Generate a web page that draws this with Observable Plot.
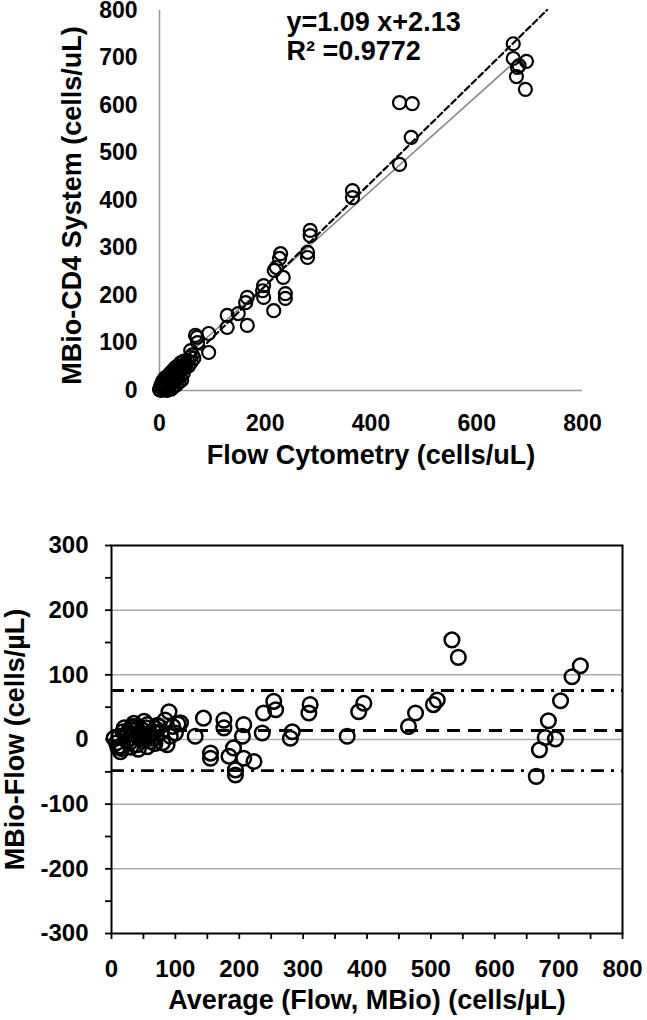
<!DOCTYPE html>
<html>
<head>
<meta charset="utf-8">
<script src="https://cdn.jsdelivr.net/npm/d3@7"></script>
<script src="https://cdn.jsdelivr.net/npm/@observablehq/plot@0.6"></script>
<style>
  body { margin: 0; background: #fff; }
  #chart svg { display: block; }
</style>
</head>
<body>
<div id="chart"></div>
<script>
// ---------- Top chart: correlation ----------
const flowVals = [0,2,3,4,5,6,7,8,9,10,11,12,13,14,15,16,17,18,19,20,21,22,23,24,25,26,27,28,29,30,31,32,33,34,35,36,37,38,39,40,41,42,44,45,46,48,50,53,55,58,60,62,65,
  59,68,72,93,93,71,128,128,149,166,166,163,197,195,197,216,238,238,234,217,221,227,229,280,280,285,285,365,365,454,476,454,478,669,669,680,694,677,675,692];
const mbioVals = [2,8,0,14,5,20,10,2,16,26,7,12,22,0,30,18,5,26,12,36,22,3,30,16,42,28,8,36,20,48,32,12,40,26,52,38,18,46,30,58,44,22,52,36,62,48,56,63,52,70,60,75,68,
  84,116,101,120,80,112,158,133,162,137,196,185,221,210,196,168,204,194,238,253,259,278,288,280,291,326,337,406,421,476,533,606,604,730,699,684,693,680,661,634];
const topXTicks = [0, 200, 400, 600, 800];
const topYTicks = [0, 100, 200, 300, 400, 500, 600, 700, 800];
const regSlope = 1.09, regIntercept = 2.13;
const regXRange = [0, 733];
const refLineX = [0, 670];
const refLineY = [22, 690];
const eqLabel = "y=1.09 x+2.13";
const r2Label = "R\u00B2 =0.9772";
const topXTitle = "Flow Cytometry (cells/uL)";
const topYTitle = "MBio-CD4 System (cells/uL)";

// ---------- Bottom chart: Bland-Altman ----------
const baAvg = [4,14,14,10,22,25,18,28,30,32,35,40,40,43,45,48,51,56,56,58,60,62,66,69,72,75,80,87,90,92,104,
  8,12,16,20,24,26,30,34,38,42,46,50,54,64,68,78,84,96,100,108,
  131,144,155,155,176,176,184,191,194,194,205,207,207,223,236,238,254,257,280,283,309,311,369,387,395,465,476,504,510,533,543,665,670,679,684,695,703,721,734];
const baDiff = [2,-19,-10,-12,7,7,12,-5,15,20,25,17,-8,2,7,15,28,23,-11,5,10,-3,12,17,22,20,-5,-8,43,5,24,
  -5,5,-14,18,-2,12,-12,8,20,-15,10,0,18,2,-6,12,30,20,10,26,
  5,33,-21,-29,30,18,-26,-13,-47,-55,5,23,-29,-34,10,41,59,46,2,12,41,54,5,43,56,20,41,54,61,154,127,-57,-16,3,29,1,60,97,114];
const meanDiff = 13.9;
const upperLoA = 75.8;
const lowerLoA = -48.0;
const baXTicks = d3.range(0, 801, 50);
const baYTicks = d3.range(-300, 301, 50);
const baGrid = [200, 100, 0, -100, -200];
const baXTitle = "Average (Flow, MBio) (cells/\u00B5L)";
const baYTitle = "MBio-Flow (cells/\u00B5L)";

const font = "'Liberation Sans', Arial, Helvetica, sans-serif";

const topData = flowVals.map((f, i) => ({flow: f, mbio: mbioVals[i]}));
const regLine = regXRange.map(x => ({x, y: regSlope * x + regIntercept}));
const refLine = refLineX.map((x, i) => ({x, y: refLineY[i]}));

const topPlot = Plot.plot({
  width: 647, height: 480,
  marginTop: 10, marginBottom: 90, marginLeft: 159, marginRight: 65,
  style: {fontFamily: font, fontSize: "23px", fontWeight: "bold", color: "black", background: "white", overflow: "visible"},
  x: {domain: [0, 800], label: null},
  y: {domain: [0, 800], label: null},
  marks: [
    Plot.axisX({ticks: topXTicks, tickSize: 0, tickPadding: 24, fontSize: 23, fontWeight: "bold", label: null}),
    Plot.axisY({ticks: topYTicks, tickSize: 0, tickPadding: 22, fontSize: 23, fontWeight: "bold", label: null}),
    Plot.ruleX([0], {stroke: "#999", strokeWidth: 1.5}),
    Plot.ruleY([0], {stroke: "#999", strokeWidth: 1.5}),
    Plot.line(refLine, {x: "x", y: "y", stroke: "#888", strokeWidth: 1.5}),
    Plot.line(regLine, {x: "x", y: "y", stroke: "black", strokeWidth: 2.2, strokeDasharray: "6,3.5"}),
    Plot.dot(topData, {x: "flow", y: "mbio", r: 6.5, stroke: "black", strokeWidth: 2.2, fill: "none"}),
    Plot.text([eqLabel], {text: d => d, frameAnchor: "top-left", dx: 127, dy: 12, textAnchor: "start", lineAnchor: "middle", fontSize: 27, fontWeight: "bold"}),
    Plot.text([r2Label], {text: d => d, frameAnchor: "top-left", dx: 127, dy: 41, textAnchor: "start", lineAnchor: "middle", fontSize: 27, fontWeight: "bold"}),
    Plot.text([topXTitle], {text: d => d, frameAnchor: "bottom", dy: 65, textAnchor: "middle", lineAnchor: "middle", fontSize: 27, fontWeight: "bold"}),
    Plot.text([topYTitle], {text: d => d, frameAnchor: "left", dx: -87, dy: 5, rotate: -90, textAnchor: "middle", lineAnchor: "middle", fontSize: 27, fontWeight: "bold"})
  ]
});

const baData = baAvg.map((a, i) => ({avg: a, diff: baDiff[i]}));
const fmt = d => (d % 100 === 0 ? String(d) : "");

const bottomPlot = Plot.plot({
  width: 647, height: 540,
  marginTop: 65, marginBottom: 87, marginLeft: 111, marginRight: 25,
  style: {fontFamily: font, fontSize: "24px", fontWeight: "bold", color: "black", background: "white", overflow: "visible"},
  x: {domain: [0, 800], label: null},
  y: {domain: [-300, 300], label: null},
  marks: [
    Plot.ruleY(baGrid, {stroke: "#aaa", strokeWidth: 1.5}),
    Plot.ruleY([meanDiff], {stroke: "black", strokeWidth: 2.8, strokeDasharray: "13,8"}),
    Plot.ruleY([upperLoA, lowerLoA], {stroke: "black", strokeWidth: 2.8, strokeDasharray: "13,7,3,7"}),
    Plot.dot(baData, {x: "avg", y: "diff", r: 7.3, stroke: "black", strokeWidth: 2.5, fill: "none"}),
    Plot.frame({stroke: "black", strokeWidth: 2}),
    Plot.axisX({ticks: baXTicks, tickFormat: fmt, tickSize: 6, tickPadding: 20, strokeWidth: 1.8, fontSize: 24, fontWeight: "bold", label: null}),
    Plot.axisY({ticks: baYTicks, tickFormat: fmt, tickSize: 6, tickPadding: 17, strokeWidth: 1.8, fontSize: 24, fontWeight: "bold", label: null}),
    Plot.text([baXTitle], {text: d => d, frameAnchor: "bottom", dy: 67, textAnchor: "middle", lineAnchor: "middle", fontSize: 27, fontWeight: "bold"}),
    Plot.text([baYTitle], {text: d => d, frameAnchor: "left", dx: -96, rotate: -90, textAnchor: "middle", lineAnchor: "middle", fontSize: 27, fontWeight: "bold"})
  ]
});

const chart = document.getElementById("chart");
chart.appendChild(topPlot);
chart.appendChild(bottomPlot);
</script>
</body>
</html>
